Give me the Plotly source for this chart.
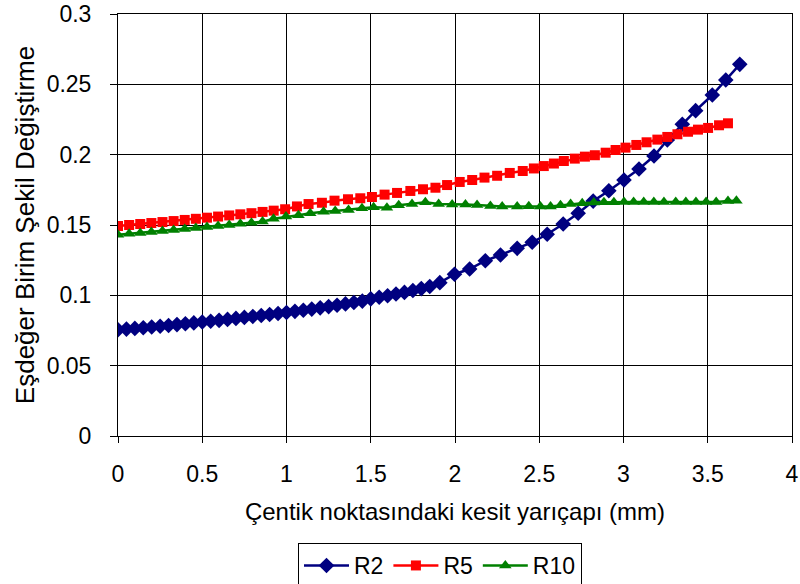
import plotly.graph_objects as go

# R2 series (diamonds)
r2_x = [0.00, 0.05, 0.10, 0.15, 0.20, 0.25, 0.30, 0.35, 0.40, 0.45,
        0.50, 0.55, 0.60, 0.65, 0.70, 0.75, 0.80, 0.85, 0.90, 0.95,
        1.00, 1.05, 1.10, 1.15, 1.20, 1.25, 1.30, 1.35, 1.40, 1.45,
        1.50, 1.55, 1.60, 1.65, 1.70, 1.75, 1.80, 1.85, 1.91,
        1.997, 2.087, 2.18, 2.27, 2.369, 2.458, 2.547, 2.642, 2.731, 2.82,
        2.913, 3.003, 3.092, 3.181, 3.26, 3.349, 3.428, 3.527, 3.607, 3.69]
r2_y = [0.0755, 0.0760, 0.0765, 0.0770, 0.0775, 0.0780, 0.0786, 0.0792, 0.0798, 0.0804,
        0.0810, 0.0816, 0.0822, 0.0829, 0.0836, 0.0843, 0.0850, 0.0857, 0.0864, 0.0871,
        0.0878, 0.0886, 0.0894, 0.0902, 0.0911, 0.0920, 0.0929, 0.0939, 0.0949, 0.0959,
        0.0975, 0.0986, 0.0997, 0.1009, 0.1021, 0.1034, 0.1048, 0.1063, 0.1090,
        0.115, 0.1187, 0.1246, 0.1287, 0.1334, 0.1377, 0.1434, 0.1507, 0.1583, 0.167,
        0.1744, 0.182, 0.1898, 0.199, 0.2104, 0.2216, 0.2313, 0.2424, 0.2531, 0.2642]

# R5 series (squares)
r5_x = [0.0, 0.066, 0.132, 0.198, 0.264, 0.330, 0.396, 0.462, 0.528, 0.594,
        0.660, 0.726, 0.792, 0.858, 0.924, 0.992, 1.062,
        1.131, 1.21, 1.285, 1.365, 1.438, 1.507, 1.582, 1.656, 1.735, 1.81,
        1.884, 1.953, 2.028, 2.102, 2.175, 2.25, 2.325, 2.402, 2.468, 2.527,
        2.587, 2.646, 2.711, 2.771, 2.83, 2.894, 2.953, 3.012, 3.076, 3.137,
        3.201, 3.26, 3.32, 3.383, 3.442, 3.502, 3.567, 3.62]
r5_y = [0.1493, 0.1500, 0.1507, 0.1514, 0.1521, 0.1528, 0.1536, 0.1544, 0.1552, 0.1560,
        0.1568, 0.1576, 0.1584, 0.1593, 0.1602, 0.1612, 0.1632,
        0.1649, 0.1658, 0.1673, 0.1683, 0.1690, 0.1699, 0.1716, 0.1728, 0.1742, 0.1754,
        0.1765, 0.1784, 0.1806, 0.1820, 0.1837, 0.1850, 0.1870, 0.1884, 0.1902, 0.1919,
        0.1937, 0.1955, 0.1972, 0.1986, 0.1996, 0.2014, 0.2033, 0.2050, 0.2069, 0.2088,
        0.2107, 0.2126, 0.2145, 0.2163, 0.2178, 0.2190, 0.2209, 0.2223]

# R10 series (triangles)
r10_x = [0.0, 0.066, 0.132, 0.198, 0.264, 0.330, 0.396, 0.462, 0.528, 0.594,
         0.660, 0.726, 0.792, 0.858, 0.923, 0.997, 1.071, 1.141, 1.22, 1.289,
         1.368, 1.448, 1.517, 1.596, 1.666, 1.745, 1.824, 1.903, 1.983, 2.062,
         2.131, 2.21, 2.28, 2.369, 2.438, 2.507, 2.567, 2.626, 2.686, 2.755,
         2.824, 2.884, 2.943, 3.003, 3.06, 3.12, 3.18, 3.24, 3.31, 3.37,
         3.43, 3.49, 3.55, 3.62, 3.67]
r10_y = [0.1430, 0.1437, 0.1444, 0.1451, 0.1458, 0.1465, 0.1472, 0.1479, 0.1486, 0.1493,
         0.1500, 0.1508, 0.1516, 0.1524, 0.1545, 0.1560, 0.1570, 0.1583, 0.1595, 0.1600,
         0.1607, 0.1619, 0.1626, 0.1623, 0.1640, 0.1650, 0.1661, 0.1650, 0.1645, 0.1645,
         0.1642, 0.1635, 0.1632, 0.1632, 0.1634, 0.1632, 0.1632, 0.1640, 0.1650, 0.1655,
         0.1660, 0.1662, 0.1662, 0.1664, 0.1664, 0.1664, 0.1664, 0.1664, 0.1664, 0.1664,
         0.1664, 0.1664, 0.1664, 0.1670, 0.1672]

x_ticks = [0, 0.5, 1, 1.5, 2, 2.5, 3, 3.5, 4]
x_tick_labels = ["0", "0.5", "1", "1.5", "2", "2.5", "3", "3.5", "4"]
y_ticks = [0, 0.05, 0.1, 0.15, 0.2, 0.25, 0.3]
y_tick_labels = ["0", "0.05", "0.1", "0.15", "0.2", "0.25", "0.3"]

FONT = "Liberation Sans, Arial, sans-serif"

fig = go.Figure()
fig.add_trace(go.Scatter(x=r2_x, y=r2_y, name="R2", mode="lines+markers",
                         line=dict(color="#000080", width=2.5),
                         marker=dict(symbol="diamond", size=12, color="#000080")))
fig.add_trace(go.Scatter(x=r5_x, y=r5_y, name="R5", mode="lines+markers",
                         line=dict(color="#FF0000", width=2.5),
                         marker=dict(symbol="square", size=10, color="#FF0000")))
fig.add_trace(go.Scatter(x=r10_x, y=r10_y, name="R10", mode="lines+markers",
                         line=dict(color="#008000", width=2.5),
                         marker=dict(symbol="triangle-up", size=11, color="#008000")))

fig.update_layout(
    width=800, height=584,
    margin=dict(l=118, r=8, t=14, b=148, autoexpand=False),
    paper_bgcolor="white", plot_bgcolor="white",
    font=dict(family=FONT, size=23, color="black"),
    showlegend=True,
    legend=dict(orientation="h", xref="container", yref="container",
                x=0.55, xanchor="center", y=1 - 543 / 584, yanchor="top",
                bordercolor="black", borderwidth=1, font=dict(size=23),
                itemwidth=45, tracegroupgap=0),
)
fig.update_xaxes(range=[0, 4], tickvals=x_ticks, ticktext=x_tick_labels,
                 showgrid=True, gridcolor="black", gridwidth=1,
                 showline=True, linecolor="black", linewidth=1, mirror=True,
                 ticks="outside", ticklen=6, tickcolor="black",
                 ticklabelstandoff=11, zeroline=False, automargin=False,
                 tickfont=dict(size=23),
                 title=dict(text="Çentik noktasındaki kesit yarıçapı (mm)", standoff=17,
                            font=dict(size=24)))
fig.update_yaxes(range=[0, 0.3], tickvals=y_ticks, ticktext=y_tick_labels,
                 showgrid=True, gridcolor="black", gridwidth=1,
                 showline=True, linecolor="black", linewidth=1, mirror=True,
                 ticks="outside", ticklen=7, tickcolor="black",
                 ticklabelstandoff=14, zeroline=False, automargin=False,
                 tickfont=dict(size=23),
                 title=dict(text="Eşdeğer Birim Şekil Değiştirme", standoff=4,
                            font=dict(size=26)))

fig.write_html("out.html", config={"displayModeBar": False},
               post_script="document.body.style.margin='0';")
